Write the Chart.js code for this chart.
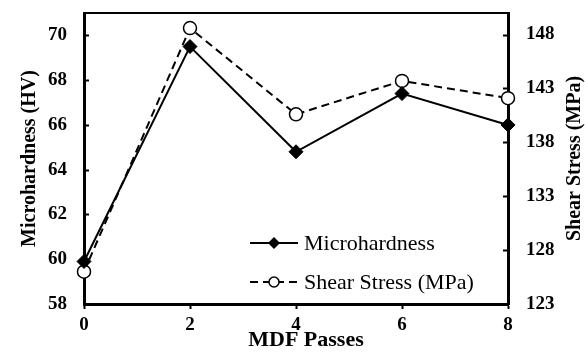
<!DOCTYPE html>
<html>
<head>
<meta charset="utf-8">
<script src="https://cdn.jsdelivr.net/npm/chart.js@4.4.1/dist/chart.umd.min.js"></script>
<style>
  html, body { margin: 0; padding: 0; background: #fff; }
  #wrap { width: 585px; height: 356px; position: relative; }
</style>
</head>
<body>
<div id="wrap"><canvas id="chart"></canvas></div>
<script>
// --- data ---
const passes = [0, 2, 4, 6, 8];
const microhardness = [59.9, 69.5, 64.8, 67.4, 66.0];
const shearStress = [126.0, 148.6, 140.6, 143.7, 142.1];
const hvTicks = [58, 60, 62, 64, 66, 68, 70];
const mpaTicks = [123, 128, 133, 138, 143, 148];

const serif = "'Liberation Serif', 'Times New Roman', serif";

// inward ticks on both y axes, top frame line, custom legend, axis titles
const decorations = {
    id: 'decorations',
    afterDraw(chart) {
        const ctx = chart.ctx;
        const area = chart.chartArea;
        const yL = chart.scales.y;
        const yR = chart.scales.y2;
        ctx.save();
        ctx.strokeStyle = '#000';
        ctx.lineWidth = 2;
        hvTicks.forEach(v => {
            const py = Math.round(yL.getPixelForValue(v)) + 0.5;
            ctx.beginPath();
            ctx.moveTo(area.left, py);
            ctx.lineTo(area.left + 5, py);
            ctx.stroke();
        });
        mpaTicks.forEach(v => {
            const py = Math.round(yR.getPixelForValue(v)) + 0.5;
            ctx.beginPath();
            ctx.moveTo(area.right, py);
            ctx.lineTo(area.right - 5, py);
            ctx.stroke();
        });
        // top frame
        ctx.lineWidth = 2;
        ctx.beginPath();
        ctx.moveTo(area.left - 1, area.top);
        ctx.lineTo(area.right + 1, area.top);
        ctx.stroke();

        // legend
        const lx0 = 250, lx1 = 298, mx = 274;
        const rows = [
            { y: 243, label: 'Microhardness', dash: [], marker: 'diamond' },
            { y: 282, label: 'Shear Stress (MPa)', dash: [8, 5], marker: 'circle' }
        ];
        rows.forEach(r => {
            ctx.setLineDash(r.dash);
            ctx.lineWidth = 2;
            ctx.beginPath();
            ctx.moveTo(lx0, r.y);
            ctx.lineTo(lx1, r.y);
            ctx.stroke();
            ctx.setLineDash([]);
            ctx.beginPath();
            if (r.marker === 'diamond') {
                ctx.moveTo(mx, r.y - 6);
                ctx.lineTo(mx + 6, r.y);
                ctx.lineTo(mx, r.y + 6);
                ctx.lineTo(mx - 6, r.y);
                ctx.closePath();
                ctx.fillStyle = '#000';
                ctx.fill();
            } else {
                ctx.arc(mx, r.y, 5, 0, Math.PI * 2);
                ctx.fillStyle = '#fff';
                ctx.fill();
                ctx.lineWidth = 1.5;
                ctx.stroke();
            }
            ctx.fillStyle = '#000';
            ctx.font = `22px ${serif}`;
            ctx.textAlign = 'left';
            ctx.textBaseline = 'middle';
            ctx.fillText(r.label, 304, r.y + 1);
        });

        // x axis title
        ctx.font = `bold 22px ${serif}`;
        ctx.textAlign = 'center';
        ctx.textBaseline = 'middle';
        ctx.fillText('MDF Passes', (area.left + area.right) / 2 + 10, 340);

        // right axis title, reading bottom to top
        ctx.translate(575, (area.top + area.bottom) / 2);
        ctx.rotate(-Math.PI / 2);
        ctx.font = `bold 20px ${serif}`;
        ctx.fillText('Shear Stress (MPa)', 0, 0);
        ctx.restore();
    }
};

new Chart(document.getElementById('chart'), {
    type: 'line',
    data: {
        datasets: [{
            label: 'Microhardness',
            data: passes.map((p, i) => ({ x: p, y: microhardness[i] })),
            yAxisID: 'y',
            borderColor: '#000',
            borderWidth: 2,
            pointStyle: 'rectRot',
            pointRadius: 7,
            pointBackgroundColor: '#000',
            pointBorderColor: '#000',
            pointBorderWidth: 1,
            tension: 0,
            clip: false
        }, {
            label: 'Shear Stress (MPa)',
            data: passes.map((p, i) => ({ x: p, y: shearStress[i] })),
            yAxisID: 'y2',
            borderColor: '#000',
            borderWidth: 2,
            borderDash: [8, 5],
            pointStyle: 'circle',
            pointRadius: 6.5,
            pointBackgroundColor: '#fff',
            pointBorderColor: '#000',
            pointBorderWidth: 1.5,
            tension: 0,
            clip: false
        }]
    },
    options: {
        responsive: true,
        maintainAspectRatio: false,
        animation: false,
        layout: { padding: { top: 13, left: 0, right: 0, bottom: 0 } },
        plugins: {
            legend: { display: false },
            tooltip: { enabled: false }
        },
        scales: {
            x: {
                type: 'linear',
                min: 0,
                max: 8,
                afterFit: s => { s.height = 52; },
                ticks: {
                    stepSize: 2,
                    color: '#000',
                    padding: 5,
                    font: { family: serif, size: 19, weight: 'bold' }
                },
                grid: {
                    drawOnChartArea: false,
                    drawTicks: true,
                    tickLength: 5,
                    tickColor: '#000',
                    tickWidth: 2
                },
                border: { display: true, color: '#000', width: 3 }
            },
            y: {
                position: 'left',
                min: 58,
                max: 71,
                afterFit: s => { s.width = 84; s.paddingTop = 0; s.paddingBottom = 0; },
                afterBuildTicks: s => { s.ticks = hvTicks.map(v => ({ value: v })); },
                ticks: {
                    color: '#000',
                    padding: 9,
                    font: { family: serif, size: 19, weight: 'bold' }
                },
                grid: { display: false },
                border: { display: true, color: '#000', width: 3 },
                title: {
                    display: true,
                    text: 'Microhardness (HV)',
                    color: '#000',
                    padding: { top: 18, bottom: 0 },
                    font: { family: serif, size: 20, weight: 'bold' }
                }
            },
            y2: {
                position: 'right',
                min: 123,
                max: 150,
                afterFit: s => { s.width = 77; s.paddingTop = 0; s.paddingBottom = 0; },
                afterBuildTicks: s => { s.ticks = mpaTicks.map(v => ({ value: v })); },
                ticks: {
                    color: '#000',
                    padding: 10,
                    font: { family: serif, size: 19, weight: 'bold' }
                },
                grid: { display: false },
                border: { display: true, color: '#000', width: 3 }
            }
        }
    },
    plugins: [decorations]
});
</script>
</body>
</html>
